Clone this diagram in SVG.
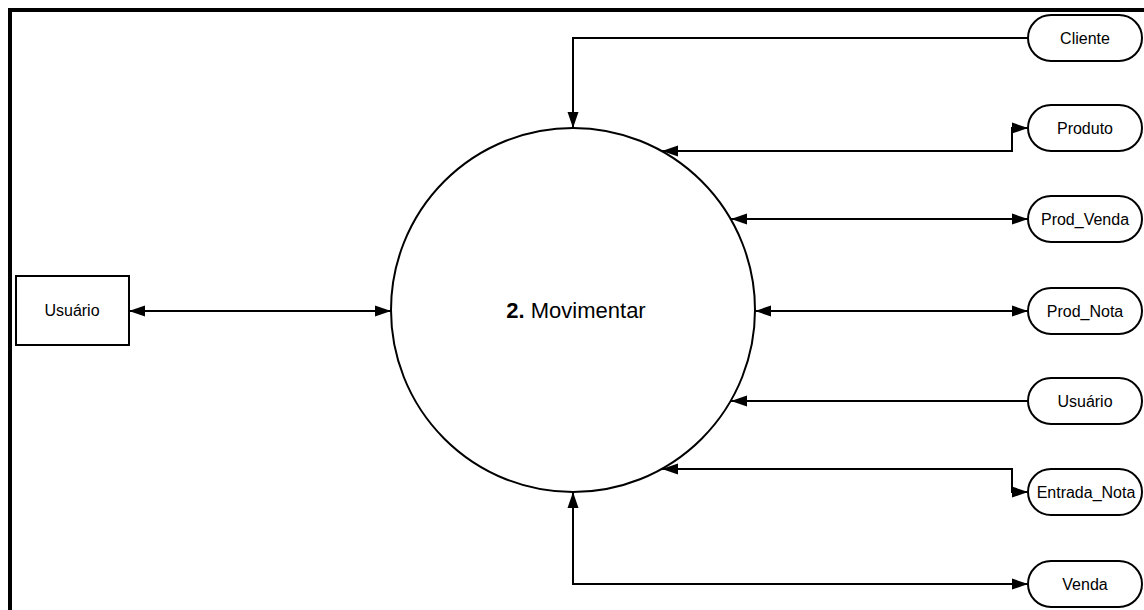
<svg xmlns="http://www.w3.org/2000/svg" width="1144" height="610" viewBox="0 0 1144 610">
<style>
.lbl{font-family:"Liberation Sans",Arial,sans-serif;font-size:16px;fill:#000;text-anchor:middle}
.node{fill:#fff;stroke:#000;stroke-width:2}
.conn{fill:none;stroke:#000;stroke-width:2}
</style>
<defs>
<marker id="ah" markerUnits="userSpaceOnUse" markerWidth="16" markerHeight="12" viewBox="0 0 16 12" refX="16" refY="6" orient="auto-start-reverse">
<path d="M0,0.5 L16,6 L0,11.5 z" fill="#000"/>
</marker>
</defs>
<rect width="1144" height="610" fill="#fff"/>
<rect x="10" y="10" width="1160" height="640" fill="none" stroke="#000" stroke-width="4"/>
<g id="connectors">
<path class="conn" d="M1028,38 H573 V128" marker-end="url(#ah)"/>
<path class="conn" d="M662,151 H1012 V128 H1028" marker-start="url(#ah)" marker-end="url(#ah)"/>
<path class="conn" d="M731,219 H1028" marker-start="url(#ah)" marker-end="url(#ah)"/>
<path class="conn" d="M755,311 H1028" marker-start="url(#ah)" marker-end="url(#ah)"/>
<path class="conn" d="M1028,401 H731" marker-end="url(#ah)"/>
<path class="conn" d="M662,469 H1012 V492 H1028" marker-start="url(#ah)" marker-end="url(#ah)"/>
<path class="conn" d="M573,492 V584 H1028" marker-start="url(#ah)" marker-end="url(#ah)"/>
<path class="conn" d="M129,311 H391" marker-start="url(#ah)" marker-end="url(#ah)"/>
</g>
<g id="process">
<circle class="node" cx="573" cy="310" r="182"/>
<text class="lbl" x="576" y="318" style="font-size:22px"><tspan font-weight="bold">2.</tspan> Movimentar</text>
</g>
<g id="usuario-ext">
<rect class="node" x="16" y="276" width="113" height="69"/>
<text class="lbl" x="72" y="316">Usuário</text>
</g>
<g id="cliente">
<rect class="node" x="1028" y="15" width="114" height="46" rx="23"/>
<text class="lbl" x="1085" y="44">Cliente</text>
</g>
<g id="produto">
<rect class="node" x="1028" y="105" width="114" height="46" rx="23"/>
<text class="lbl" x="1085" y="134">Produto</text>
</g>
<g id="prod-venda">
<rect class="node" x="1028" y="196" width="114" height="46" rx="23"/>
<text class="lbl" x="1085" y="225">Prod_Venda</text>
</g>
<g id="prod-nota">
<rect class="node" x="1028" y="288" width="114" height="46" rx="23"/>
<text class="lbl" x="1085" y="317">Prod_Nota</text>
</g>
<g id="usuario">
<rect class="node" x="1028" y="378" width="114" height="46" rx="23"/>
<text class="lbl" x="1085" y="407">Usuário</text>
</g>
<g id="entrada-nota">
<rect class="node" x="1028" y="469" width="114" height="46" rx="23"/>
<text class="lbl" x="1086" y="498">Entrada_Nota</text>
</g>
<g id="venda">
<rect class="node" x="1028" y="561" width="114" height="46" rx="23"/>
<text class="lbl" x="1085" y="590">Venda</text>
</g>
</svg>
